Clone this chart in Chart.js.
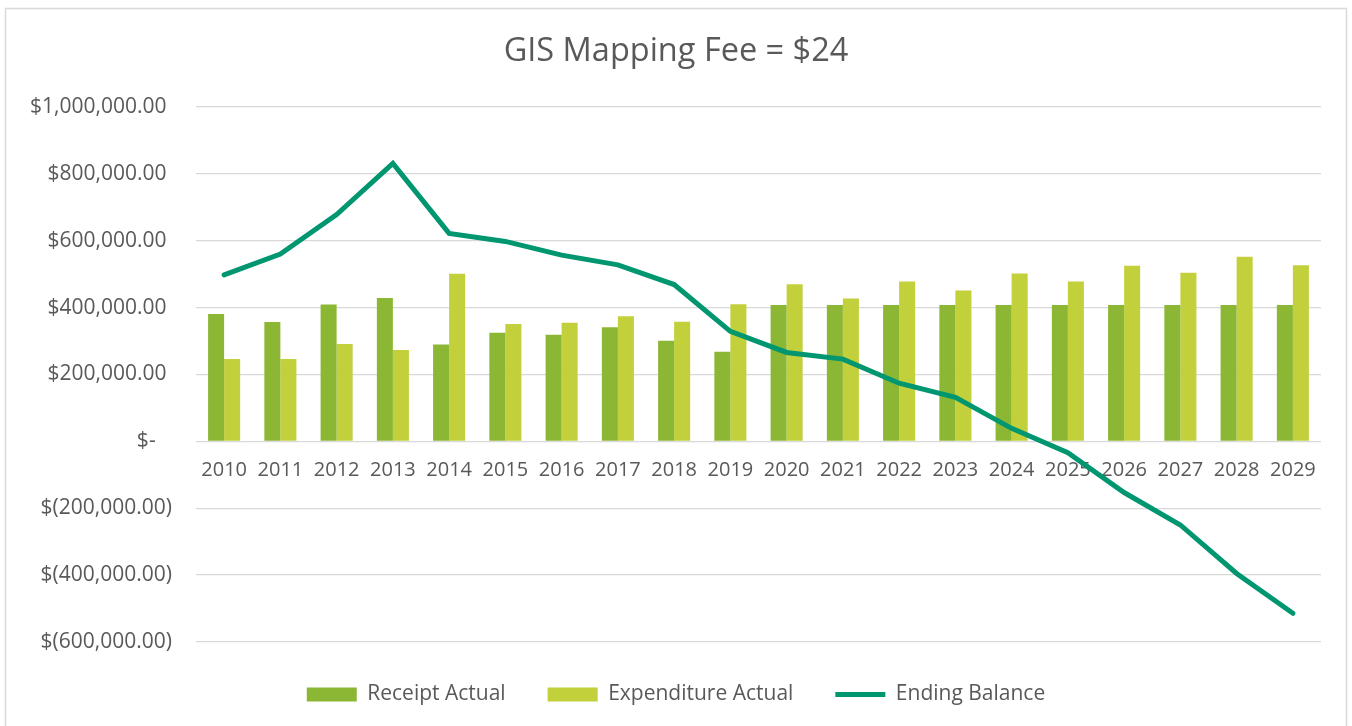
<!DOCTYPE html>
<html>
<head>
<meta charset="utf-8">
<title>GIS Mapping Fee = $24</title>
<script src="https://cdn.jsdelivr.net/npm/chart.js@4"></script>
<style>
  html, body { margin: 0; padding: 0; background: #fff; }
  canvas { display: block; }
</style>
</head>
<body>
<canvas id="feeChart" width="1352" height="726"></canvas>
<script>
  // Values
  const years = ['2010', '2011', '2012', '2013', '2014', '2015', '2016', '2017', '2018', '2019',
    '2020', '2021', '2022', '2023', '2024', '2025', '2026', '2027', '2028', '2029'];

  const receiptActual = [381000, 357000, 409000, 429000, 290000, 325000, 319000, 341000, 301000, 268000,
    408000, 408000, 408000, 408000, 408000, 408000, 408000, 408000, 408000, 408000];

  const expenditureActual = [246000, 246000, 291000, 273000, 501000, 351000, 355000, 374000, 358000, 410000,
    470000, 427000, 478000, 451000, 502000, 478000, 525000, 504000, 552000, 527000];

  const endingBalance = [498000, 560000, 678000, 831000, 622000, 598000, 557000, 528000, 469000, 329000,
    266000, 246000, 174000, 132000, 39000, -34000, -153000, -250000, -395000, -514000];

  const textColor = '#595959';
  const gridColor = '#d9d9d9';

  // Excel accounting style labels
  function money(value) {
    if (value === 0) return '$-   ';
    const s = Math.abs(value).toLocaleString('en-US', { minimumFractionDigits: 2, maximumFractionDigits: 2 });
    return value < 0 ? '$(' + s + ')' : '$' + s + ' ';
  }

  // light frame round the chart, like the Excel chart border
  const frame = {
    id: 'frame',
    beforeDraw(chart) {
      const c = chart.ctx;
      c.save();
      c.strokeStyle = gridColor;
      c.lineWidth = 1.5;
      c.strokeRect(5.5, 8.5, 1341, 740);
      c.restore();
    }
  };

  const ctx = document.getElementById('feeChart').getContext('2d');
  new Chart(ctx, {
    type: 'bar',
    data: {
      labels: years,
      datasets: [
        {
          label: 'Receipt Actual',
          data: receiptActual,
          backgroundColor: '#8cb734',
          borderWidth: 0,
          pointStyle: 'rect',
          categoryPercentage: 0.57,
          barPercentage: 1.0,
          order: 1
        },
        {
          label: 'Expenditure Actual',
          data: expenditureActual,
          backgroundColor: '#c1d03b',
          borderWidth: 0,
          pointStyle: 'rect',
          categoryPercentage: 0.57,
          barPercentage: 1.0,
          order: 2
        },
        {
          type: 'line',
          label: 'Ending Balance',
          data: endingBalance,
          borderColor: '#009670',
          backgroundColor: '#009670',
          borderWidth: 5,
          borderCapStyle: 'round',
          tension: 0,
          pointRadius: 0,
          pointStyle: 'line',
          fill: false,
          order: 0
        }
      ]
    },
    options: {
      responsive: false,
      animation: false,
      layout: { padding: { left: 0, right: 0, top: 0, bottom: 11 } },
      font: { family: '"Open Sans", sans-serif' },
      plugins: {
        title: {
          display: true,
          text: 'GIS Mapping Fee = $24',
          color: textColor,
          font: { family: '"Open Sans", sans-serif', size: 32.5, weight: 'normal' },
          padding: { top: 32.5, bottom: 35.5 }
        },
        legend: {
          position: 'bottom',
          labels: {
            color: textColor,
            font: { family: '"Open Sans", sans-serif', size: 21 },
            usePointStyle: true,
            pointStyleWidth: 50,
            boxHeight: 14,
            padding: 42,
            sort: (a, b) => a.datasetIndex - b.datasetIndex
          }
        },
        tooltip: { enabled: false }
      },
      scales: {
        x: {
          position: { y: 0 },
          grid: { display: false, drawTicks: false },
          border: { display: false },
          ticks: {
            color: textColor,
            font: { family: '"Open Sans", sans-serif', size: 20 },
            padding: 17,
            maxRotation: 0,
            autoSkip: false
          }
        },
        y: {
          min: -600000,
          max: 1000000,
          grid: { color: gridColor, lineWidth: 1.3, drawTicks: false },
          border: { display: false },
          ticks: {
            stepSize: 200000,
            color: textColor,
            font: { family: '"Open Sans", sans-serif', size: 21 },
            padding: 24,
            callback: (v) => money(v)
          },
          afterFit(scale) {
            scale.width = 196;
          }
        },
        // empty right-hand axis, only keeps the right margin of the plot
        yRight: {
          type: 'linear',
          position: 'right',
          grid: { display: false, drawTicks: false },
          border: { display: false },
          ticks: { display: false },
          afterFit(scale) {
            scale.width = 31;
          }
        }
      }
    },
    plugins: [frame]
  });
</script>
</body>
</html>
